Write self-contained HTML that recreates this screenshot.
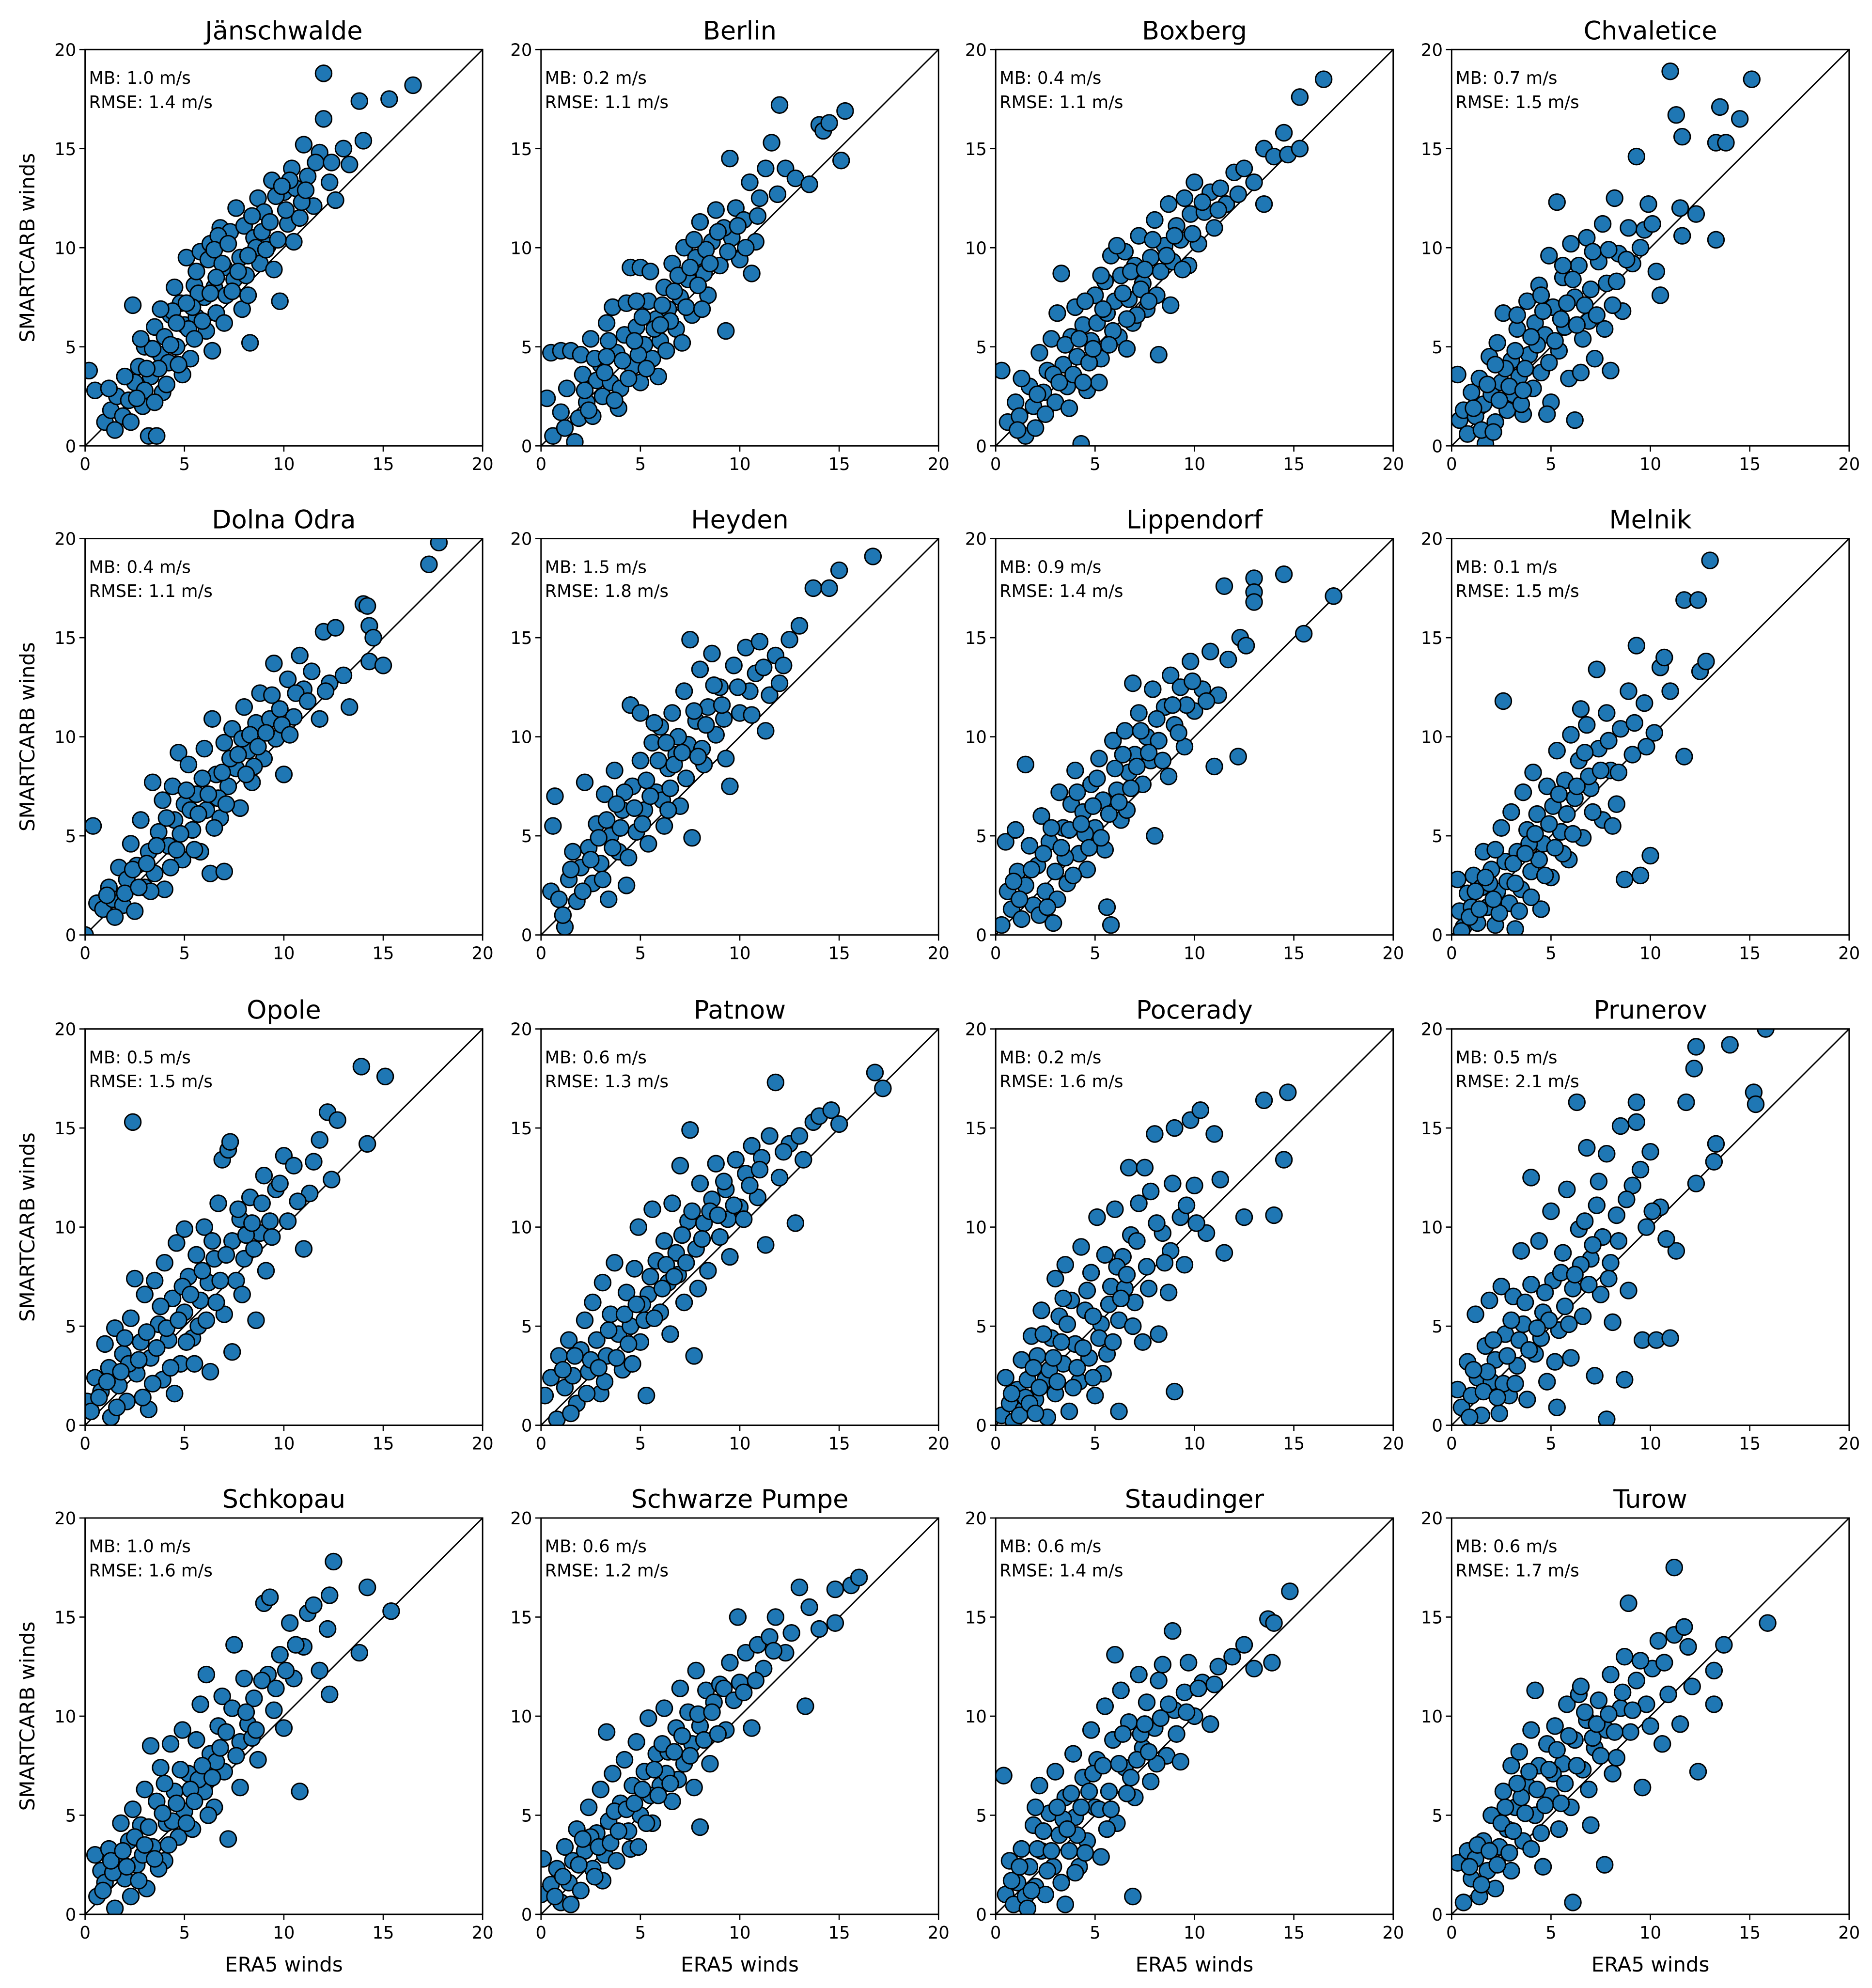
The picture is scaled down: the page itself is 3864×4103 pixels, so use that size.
<!DOCTYPE html>
<html><head><meta charset="utf-8">
<style>
html,body{margin:0;padding:0;background:#fff;}
svg{display:block;}
text{font-family:"DejaVu Sans","Liberation Sans",sans-serif;fill:#000;}
</style></head>
<body>
<svg id="fig" width="3864" height="4103" viewBox="0 0 1474 1565" preserveAspectRatio="none" xmlns="http://www.w3.org/2000/svg">
<rect width="1474" height="1565" fill="#fff"/>
</svg>
<script>
const stations = ["Jänschwalde","Berlin","Boxberg","Chvaletice","Dolna Odra","Heyden","Lippendorf","Melnik","Opole","Patnow","Pocerady","Prunerov","Schkopau","Schwarze Pumpe","Staudinger","Turow"];
const mbValues = [1.0,0.2,0.4,0.7,0.4,1.5,0.9,0.1,0.5,0.6,0.2,0.5,1.0,0.6,0.6,0.6];
const rmseValues = [1.4,1.1,1.1,1.5,1.1,1.8,1.4,1.5,1.5,1.3,1.6,2.1,1.6,1.2,1.4,1.7];
const tickLabels = [0,5,10,15,20];

const ptsJanschwalde = [[0.2,3.8],[0.5,2.8],[1,1.2],[1.3,1.8],[1.6,2.5],[1.9,1.5],[2.2,2.3],[2.4,7.1],[2.5,3.2],[2.7,4],[2.9,2],[3,5],[3.2,0.5],[3.3,3.5],[3.5,6],[3.6,0.5],[3.8,4.6],[3.9,2.7],[4,5.5],[4.2,4.2],[4.3,6.6],[4.5,8],[4.6,5],[4.8,7.2],[5,6.1],[5.1,9.5],[5.3,4.4],[5.5,8.1],[5.6,6.5],[5.8,9.8],[6,7.5],[6.1,5.8],[6.3,10.2],[6.5,8],[6.6,6.7],[6.8,11],[7,9],[7.1,7.6],[7.3,10.8],[7.5,8.4],[7.6,12],[7.8,9.5],[8,11.1],[8.1,8.6],[8.3,5.2],[8.5,10.5],[8.7,12.5],[8.8,9.2],[9,11.8],[9.2,10.1],[9.4,13.4],[9.5,8.9],[9.8,7.3],[10,12.8],[10.2,11.2],[10.4,14],[10.6,13],[10.8,11.5],[11,15.2],[11.2,13.6],[11.5,12.1],[11.8,14.8],[12,16.5],[12,18.8],[12.3,13.3],[12.6,12.4],[13,15],[13.3,14.2],[13.8,17.4],[14,15.4],[15.3,17.5],[16.5,18.2],[2,3.5],[3,2.8],[4.4,6.8],[5.2,5.9],[6.2,9.4],[7.4,7.8],[8.6,10],[9.6,12.6],[10.5,10.3],[1.5,0.8],[3.4,4.9],[4.1,3.1],[5.7,7.7],[6.9,9.2],[2.8,5.4],[4.9,3.6],[6.4,4.8],[7.9,6.9],[9.1,9.9],[10.9,12.3],[1.2,2.9],[3.7,3.9],[5.4,7],[6.7,10.6],[2.3,1.2],[2.6,2.4],[3.1,3.9],[3.5,2.2],[4.3,5.1],[4.7,4.1],[5.1,7.2],[5.5,5.4],[5.9,6.3],[6.3,7.7],[6.5,9.9],[7,6.2],[7.2,10.2],[7.7,8.8],[8.2,9.6],[8.4,11.6],[8.9,10.8],[9.3,11.3],[9.7,10.4],[10.1,11.9],[10.3,13.4],[11.1,12.9],[11.6,14.3],[12.4,14.3],[4.6,6.2],[3.8,6.9],[5.6,8.8],[6.6,8.5],[8.2,7.6],[9.9,13.1]];
const ptsBerlin = [[0.3,2.4],[0.5,4.7],[0.6,0.5],[1,4.8],[1,1.7],[1.3,2.9],[1.5,4.8],[1.7,0.2],[1.9,1.4],[2.1,3.6],[2.3,2.2],[2.5,5.4],[2.6,1.5],[2.8,3.3],[3,4.1],[3.1,2.5],[3.3,6.2],[3.5,3.2],[3.6,7],[3.8,4.7],[4,2.9],[4.2,5.6],[4.3,7.2],[4.5,9],[4.6,4],[4.8,6],[5,9],[5,3.2],[5.2,5.1],[5.4,7.3],[5.5,8.8],[5.6,4.4],[5.8,6.4],[6,5.3],[6.2,8],[6.4,6.9],[6.6,9.2],[6.8,5.9],[7,7.5],[7.2,10],[7.4,8.4],[7.6,6.6],[7.8,9.5],[8,11.3],[8.2,8.7],[8.4,7.6],[8.6,10.3],[8.8,11.9],[9,9.1],[9.3,5.8],[9.5,14.5],[9.6,10.5],[9.8,12],[10,9.4],[10.2,11.4],[10.5,13.3],[10.8,10.3],[11,12.5],[11.3,14],[11.6,15.3],[11.9,12.7],[12,17.2],[12.3,14],[12.8,13.5],[13.5,13.2],[14,16.2],[14.2,15.9],[14.5,16.3],[15.1,14.4],[15.3,16.9],[2,4.6],[3.9,1.9],[4.9,4.6],[6.1,7.1],[7.1,5.2],[8.3,9.9],[2.4,1.8],[3.4,5.3],[5.9,3.5],[6.9,8.6],[9.2,11],[10.6,8.7],[1.2,0.9],[2.2,2.8],[2.7,4.4],[3.2,3.7],[3.7,2.3],[4.1,4.3],[4.4,3.4],[4.7,5.3],[5.1,6.5],[5.3,3.9],[5.7,5.9],[6.3,4.8],[6.5,6.3],[6.7,7.8],[7.3,7],[7.5,9],[7.9,8.1],[8.1,6.9],[8.5,9.2],[8.9,10.8],[9.4,9.8],[9.9,11.1],[10.3,10],[10.9,11.6],[3.3,4.5],[4.8,7.3],[6.0,6.1],[7.7,10.4]];
const ptsBoxberg = [[0.3,3.8],[0.6,1.2],[1,2.2],[1.2,1.5],[1.5,0.5],[1.7,3],[1.9,2],[2.2,4.7],[2.4,2.7],[2.6,3.8],[2.8,5.4],[3,2.2],[3.1,6.7],[3.3,8.7],[3.4,4.1],[3.6,3],[3.8,5.5],[4,7],[4.1,4.5],[4.3,0.1],[4.4,6.1],[4.6,2.8],[4.8,5.3],[5,7.6],[5.1,6.2],[5.3,4.4],[5.5,8.3],[5.6,6.7],[5.8,9.6],[6,7.3],[6.2,5.5],[6.3,8.6],[6.5,9.8],[6.7,7.4],[6.9,6.2],[7,9.1],[7.2,10.6],[7.4,8.2],[7.6,6.9],[7.8,9.5],[8,11.4],[8.2,4.6],[8.3,8.8],[8.5,10.1],[8.7,12.2],[8.9,9.3],[9.1,11.1],[9.3,10.4],[9.5,12.5],[9.8,11.7],[10,13.3],[10.2,10.2],[10.5,11.8],[10.8,12.8],[11,11],[11.3,13],[11.6,12.2],[12,13.8],[12.5,14],[13,13.3],[13.5,12.2],[13.5,15],[14,14.6],[14.5,15.8],[14.7,14.7],[15.3,15],[15.3,17.6],[16.5,18.5],[1.3,3.4],[2,0.9],[3.7,1.9],[5.2,3.2],[6.6,4.9],[7.3,7.9],[8.8,7.1],[9.7,9.1],[4.7,4.2],[5.9,5.8],[2.9,3.6],[6.1,10.1],[1.1,0.8],[2.1,2.6],[2.5,1.6],[3.2,3.2],[3.5,5.1],[3.9,3.6],[4.2,5.4],[4.5,7.3],[4.9,4.9],[5.4,6.9],[5.7,5.1],[6.4,7.7],[6.8,8.8],[7.1,6.6],[7.5,8.9],[7.9,10.4],[8.1,7.6],[8.6,9.6],[9,10.6],[9.4,8.9],[9.9,10.7],[10.4,12.3],[11.2,11.9],[12.2,12.7],[4.4,3.2],[5.3,8.6],[6.6,6.4],[7.7,7.3]];
const ptsChvaletice = [[0.3,3.6],[0.4,1.3],[0.6,1.8],[0.8,0.6],[1,2.7],[1.2,1.5],[1.4,3.4],[1.6,2.1],[1.7,0.1],[1.9,4.5],[2,2.6],[2.2,1.2],[2.3,5.2],[2.5,3.2],[2.6,6.7],[2.8,1.8],[3,4.3],[3.1,2.6],[3.3,5.9],[3.4,3.5],[3.6,1.6],[3.8,7.3],[3.9,4.6],[4.1,2.9],[4.2,6.2],[4.4,8.1],[4.5,3.7],[4.7,5.6],[4.9,9.6],[5,2.2],[5.1,7],[5.3,12.3],[5.4,4.8],[5.6,8.5],[5.7,6],[5.9,3.4],[6,10.2],[6.2,1.3],[6.2,7.5],[6.4,9.1],[6.6,5.4],[6.8,10.5],[7,7.9],[7.2,4.4],[7.4,9.3],[7.6,11.2],[7.8,8.2],[8,3.8],[8.2,12.5],[8.4,9.7],[8.6,6.8],[8.9,11],[9.3,14.6],[9.5,10],[9.9,12.2],[10.3,8.8],[10.5,7.6],[11,18.9],[11.3,16.7],[11.5,12],[11.6,15.6],[11.6,10.6],[12.3,11.7],[13.3,10.4],[13.3,15.3],[13.5,17.1],[13.8,15.3],[14.5,16.5],[15.1,18.5],[2.7,3.9],[4.3,5.1],[5.5,6.4],[6.9,6.3],[8.1,7.1],[3.5,2.1],[7.7,5.9],[9.1,9.2],[4.8,1.6],[1.5,0.8],[1.1,1.9],[1.8,3.1],[2.1,0.7],[2.4,2.3],[2.9,3],[3.2,4.8],[3.7,3.9],[4,5.5],[4.6,6.8],[4.9,4.2],[5.2,5.3],[5.8,7.2],[6.1,8.4],[6.3,6.1],[6.7,7.1],[7.1,9.8],[7.3,6.6],[7.9,9.9],[8.3,8.3],[8.8,9.4],[9.7,10.9],[10.1,11.2],[3.3,6.6],[4.5,7.6],[5.6,9.1],[6.5,3.7],[2.2,4.1],[3.6,2.8]];
const ptsDolnaOdra = [[0,0],[0.4,5.5],[0.6,1.6],[0.9,1.3],[1.2,2.4],[1.4,1.8],[1.7,3.4],[1.9,1.5],[2.1,2.8],[2.3,4.6],[2.5,1.2],[2.6,3.5],[2.8,5.8],[3,2.4],[3.2,4.2],[3.4,7.7],[3.5,3.1],[3.7,5.2],[3.9,6.8],[4,2.3],[4.2,4.5],[4.4,7.5],[4.5,5.8],[4.7,9.2],[4.9,3.8],[5,6.6],[5.2,8.6],[5.4,5.3],[5.6,7.1],[5.8,4.2],[6,9.4],[6.1,6.3],[6.3,3.1],[6.4,10.9],[6.6,8.1],[6.8,5.9],[7,3.2],[7,9.7],[7.2,7.5],[7.4,10.4],[7.6,8.4],[7.8,6.4],[8,11.5],[8.2,9.3],[8.4,7.7],[8.6,10.7],[8.8,12.2],[9,8.9],[9.3,10.9],[9.5,13.7],[9.8,11.4],[10,8.1],[10.2,12.9],[10.5,11],[10.8,14.1],[11,12.4],[11.4,13.3],[11.8,10.9],[12,15.3],[12.3,12.7],[12.6,15.5],[13,13.1],[13.3,11.5],[14,16.7],[14.2,16.6],[14.3,15.6],[14.3,13.8],[14.5,15],[15,13.6],[17.3,18.7],[17.8,19.8],[1.5,0.9],[3.3,2.2],[5.5,4.3],[6.7,6.9],[8.5,8.5],[9.6,9.9],[2.4,3.3],[4.6,4.3],[7.9,9.9],[1.1,2],[2,2.1],[2.7,2.4],[3.1,3.6],[3.6,4.5],[4.1,5.9],[4.3,3.4],[4.8,5.1],[5.1,7.3],[5.3,6.3],[5.7,6.1],[5.9,7.9],[6.2,7.1],[6.5,5.4],[6.9,8.2],[7.1,6.6],[7.3,8.9],[7.7,9.1],[8.1,8.1],[8.3,10.1],[8.7,9.5],[9.1,10.2],[9.4,12.1],[9.9,10.6],[10.3,10.1],[10.6,12.2],[11.2,11.8],[12.1,12.3]];
const ptsHeyden = [[0.6,5.5],[0.7,7],[0.5,2.2],[0.9,1.8],[1.2,0.4],[1.4,2.8],[1.6,4.2],[1.8,1.7],[2,3.4],[2.2,7.7],[2.4,4.4],[2.6,2.6],[2.8,5.6],[3,3.6],[3.2,7.1],[3.4,1.8],[3.5,5],[3.7,8.3],[3.9,4.2],[4.1,6.3],[4.3,2.5],[4.5,11.6],[4.6,7.5],[4.8,5.2],[5,11.2],[5,8.8],[5.2,6.3],[5.4,4.6],[5.6,9.7],[5.8,7.2],[6,10.5],[6.2,5.5],[6.4,8.4],[6.6,11.2],[6.8,9.1],[7,6.5],[7.2,12.3],[7.4,9.6],[7.5,14.9],[7.6,4.9],[7.8,10.8],[8,13.4],[8.2,8.6],[8.4,11.5],[8.6,14.2],[8.8,10.1],[9,12.5],[9.3,8.9],[9.5,7.5],[9.7,13.6],[10,11.2],[10.3,14.5],[10.5,12.3],[10.8,13.2],[11,14.8],[11.3,10.3],[11.5,12.1],[11.8,14.1],[12.2,13.6],[12.5,14.9],[13,15.6],[13.7,17.5],[14.5,17.5],[15,18.4],[16.7,19.1],[1.1,1],[2.9,4.9],[4.4,3.9],[6.1,6.8],[7.3,7.9],[8.1,9.4],[9.2,10.9],[3.3,5.8],[5.3,7.8],[6.9,10],[1.5,3.3],[2.1,2.2],[2.5,3.8],[3.1,2.8],[3.6,4.4],[4,5.4],[4.2,7.2],[4.7,6.4],[5.1,5.6],[5.5,7],[5.9,8.8],[6.3,9.7],[6.5,7.4],[6.7,8.6],[7.1,9.2],[7.7,11.3],[7.9,9],[8.3,10.6],[8.7,12.6],[9.1,11.6],[9.9,12.5],[10.6,11.1],[11.2,13.5],[12,12.7],[3.8,6.6],[5.7,10.7],[6.4,6.3]];
const ptsLippendorf = [[0.3,0.5],[0.5,4.7],[0.6,2.2],[0.8,1.3],[1,5.3],[1.1,3.2],[1.3,0.8],[1.5,8.6],[1.5,2.5],[1.7,4.5],[1.9,1.5],[2.1,3.5],[2.3,6],[2.5,2.2],[2.7,4.7],[2.9,0.6],[3,3.2],[3.2,7.2],[3.4,5.4],[3.6,2.6],[3.8,6.6],[4,8.3],[4.2,4.1],[4.4,6.2],[4.6,3.3],[4.8,7.6],[5,5.4],[5.2,8.9],[5.4,6.8],[5.6,1.4],[5.8,0.5],[5.9,9.8],[6.1,7.3],[6.3,5.8],[6.5,10.3],[6.7,8.2],[7,9.1],[7.2,11.2],[7.4,7.6],[7.6,10],[7.9,12.4],[8,5],[8.2,9.8],[8.5,11.5],[8.8,13.1],[9,10.6],[9.3,12.5],[9.5,9.5],[9.8,13.8],[10,11.3],[10.4,12.4],[10.8,14.3],[11,8.5],[11.2,12.1],[11.5,17.6],[11.7,13.9],[12.2,9],[12.3,15],[12.6,14.6],[13,18],[13,17.3],[13,16.8],[14.5,18.2],[15.5,15.2],[17,17.1],[2.2,1],[3.5,3.9],[4.5,5.1],[5.5,4.3],[6.6,6.3],[7.8,8.8],[8.7,8],[9.6,11.6],[3.1,1.8],[6.9,12.7],[0.9,2.7],[1.2,1.8],[1.8,3.3],[2.4,4.1],[2.6,1.4],[2.8,5.4],[3.3,4.4],[3.7,5.3],[3.9,3],[4.1,7.2],[4.3,5.6],[4.7,4.4],[4.9,6.5],[5.1,7.9],[5.3,4.9],[5.7,6.1],[6,8.4],[6.2,6.7],[6.4,9.1],[6.8,7.4],[7.1,8.5],[7.3,10.3],[7.7,9.2],[8.1,10.9],[8.4,8.8],[8.9,11.6],[9.2,10.2],[9.9,12.8],[10.6,11.8]];
const ptsMelnik = [[0.3,2.8],[0.4,1.2],[0.6,0.4],[0.8,2.1],[1,1.4],[1.1,3],[1.3,0.6],[1.5,2.4],[1.6,4.2],[1.8,1.4],[2,3.3],[2.2,0.5],[2.3,2.2],[2.5,5.4],[2.6,11.8],[2.7,3.7],[2.9,1.6],[3,6.2],[3.2,0.3],[3.3,4.2],[3.5,2.3],[3.6,7.2],[3.8,5.3],[4,3.2],[4.1,8.2],[4.3,6.1],[4.5,1.3],[4.6,4.6],[4.8,7.5],[5,2.9],[5.1,6.5],[5.3,9.3],[5.5,5.2],[5.7,7.8],[5.9,3.8],[6,10.1],[6.2,6.9],[6.4,8.8],[6.6,4.9],[6.8,10.6],[7,7.4],[7.3,13.4],[7.4,9.4],[7.6,5.8],[7.8,11.2],[8,8.3],[8.3,6.6],[8.5,10.4],[8.7,2.8],[8.9,12.3],[9.1,9.1],[9.3,14.6],[9.5,3],[9.7,11.7],[10,4],[10.2,10.2],[10.5,13.5],[10.7,14],[11,12.3],[11.7,16.9],[11.7,9],[12.4,16.9],[12.5,13.3],[12.8,13.8],[13,18.9],[1.9,2.6],[3.9,4.6],[5.6,4.1],[6.9,8],[8.1,5.5],[2.4,1.1],[4.4,3.8],[6.5,11.4],[0.5,0.2],[0.9,0.9],[1.2,2.2],[1.4,1.3],[1.7,2.9],[2.1,1.8],[2.8,2.7],[3.1,3.6],[3.4,1.2],[3.7,4.1],[4.2,5.1],[4.7,3],[4.9,5.6],[5.2,4.4],[5.4,7.1],[5.8,6.1],[6.1,5.1],[6.3,7.5],[6.7,9.2],[7.1,6.2],[7.5,8.3],[7.9,9.8],[8.4,8.2],[9.2,10.7],[9.8,9.5],[3.2,2.6],[2.2,4.3],[4.0,1.9]];
const ptsOpole = [[0.1,1.2],[0.3,0.7],[0.5,2.4],[0.8,1.7],[1,4.1],[1.2,2.9],[1.3,0.4],[1.5,4.9],[1.7,2],[1.9,3.6],[2.1,1.2],[2.3,5.4],[2.4,15.3],[2.5,7.4],[2.6,2.6],[2.8,4.2],[3,6.6],[3.2,0.8],[3.3,3.4],[3.5,7.3],[3.7,5.1],[3.9,2.3],[4,8.2],[4.2,4.3],[4.4,6.4],[4.6,9.2],[4.8,3.1],[5,9.9],[5,5.7],[5.2,7.5],[5.4,4.4],[5.6,8.6],[5.8,6.3],[6,10],[6.2,7.2],[6.3,2.7],[6.5,8.4],[6.7,11.2],[6.9,13.4],[7,5.6],[7.2,13.9],[7.3,14.3],[7.4,3.7],[7.4,9.3],[7.6,7.3],[7.8,10.4],[8,8.4],[8.3,11.5],[8.6,5.3],[8.8,9.7],[9,12.6],[9.3,10.3],[9.6,11.9],[10,13.6],[10.2,10.3],[10.5,13.1],[11,8.9],[11.3,11.7],[11.8,14.4],[12.2,15.8],[12.4,12.4],[12.7,15.4],[13.9,18.1],[14.2,14.2],[15.1,17.6],[1.6,0.9],[3.4,2.1],[4.5,1.6],[5.5,3.1],[6.6,6.2],[7.9,6.6],[9.1,7.8],[2.2,3.1],[4.1,4.9],[8.5,8.9],[0.7,1.4],[1.1,2.2],[1.8,2.7],[2.0,4.4],[2.7,3.3],[2.9,1.4],[3.1,4.7],[3.6,3.9],[3.8,6],[4.3,2.9],[4.7,5.3],[4.9,7],[5.1,4.2],[5.3,6.6],[5.7,5],[5.9,7.8],[6.1,5.3],[6.4,9.3],[6.8,7.3],[7.1,8.6],[7.7,10.9],[8.1,9.6],[8.4,10.2],[8.9,11.2],[9.4,9.5],[9.8,12.2],[10.7,11.3],[11.5,13.3]];
const ptsPatnow = [[0.2,1.5],[0.5,2.4],[0.8,0.3],[0.9,3.5],[1.2,1.9],[1.4,4.3],[1.6,2.5],[1.8,1.1],[2,3.8],[2.2,5.3],[2.4,2.7],[2.6,6.2],[2.8,4.3],[3,1.6],[3.1,7.2],[3.3,3.5],[3.5,5.6],[3.7,8.2],[3.9,4.6],[4.1,2.8],[4.3,6.7],[4.5,5],[4.7,7.9],[4.9,10],[5,4.2],[5.3,1.5],[5.4,6.6],[5.6,10.9],[5.8,8.3],[6,5.7],[6.2,9.3],[6.4,7.2],[6.6,11.2],[6.8,8.7],[7,13.1],[7.2,6.2],[7.4,10.3],[7.5,14.9],[7.7,3.5],[7.8,8.9],[8,12.2],[8.2,10.2],[8.4,7.8],[8.6,11.4],[8.8,13.2],[9,9.5],[9.3,11.9],[9.5,8.5],[9.8,13.4],[10,11],[10.3,12.7],[10.6,14.1],[10.9,11.5],[11.1,13.5],[11.3,9.1],[11.5,14.6],[11.8,17.3],[12,12.5],[12.5,14.2],[12.8,10.2],[13.2,13.4],[13.7,15.3],[14,15.6],[14.6,15.9],[15,15.2],[16.8,17.8],[17.2,17],[1.5,0.6],[3.2,2.2],[4.6,3.1],[6.5,4.6],[7.9,6.9],[9.4,10.4],[2.5,3.3],[5.1,6.1],[6.9,7.6],[1.1,2.8],[1.7,3.5],[2.3,1.6],[2.9,2.9],[3.4,4.8],[3.8,3.4],[4.2,5.6],[4.4,4.1],[4.8,6.1],[5.2,5.3],[5.5,7.5],[5.7,5.4],[6.1,6.9],[6.3,8.1],[6.7,7.5],[7.1,9.6],[7.3,8.2],[7.6,10.8],[8.1,9.4],[8.5,10.8],[8.9,10.6],[9.2,12.3],[9.7,11.1],[10.2,10.4],[10.5,12.1],[11,12.9],[12.2,13.8],[13,14.6]];
const ptsPocerady = [[0.3,0.5],[0.5,2.4],[0.7,1.1],[0.9,0.2],[1.1,1.8],[1.3,3.3],[1.4,0.8],[1.6,2.3],[1.8,4.5],[2,1.3],[2.1,3.5],[2.3,5.8],[2.5,2.3],[2.6,0.4],[2.8,4.4],[3,7.4],[3,1.6],[3.2,5.5],[3.4,3.1],[3.5,8.1],[3.7,0.7],[3.8,6.3],[4,4.1],[4.2,2.2],[4.3,9],[4.5,5.8],[4.7,3.4],[4.8,7.7],[5,1.5],[5.1,10.5],[5.3,5.1],[5.5,8.6],[5.6,3.6],[5.8,7],[6,10.9],[6.2,0.7],[6.2,5.3],[6.4,8.5],[6.7,13],[6.8,9.6],[7,6.2],[7.2,11.2],[7.5,13],[7.6,8],[7.8,11.8],[8,14.7],[8.2,4.6],[8.4,9.7],[8.7,6.7],[9,1.7],[9,15],[9.3,10.5],[9.5,8.1],[9.8,15.4],[10,12.1],[10.3,15.9],[10.6,9.7],[11,14.7],[11.3,12.4],[11.5,8.7],[12.5,10.5],[13.5,16.4],[14,10.6],[14.5,13.4],[14.7,16.8],[1.5,1.4],[2.7,2.8],[4.1,2.9],[5.2,4.4],[6.5,6.9],[7.4,4.2],[3.3,4.2],[4.6,6.8],[8.8,8.8],[0.8,1.6],[1.2,0.5],[1.7,1.1],[1.9,2.9],[2.2,1.9],[2.4,4.6],[2.9,3.4],[3.1,2.2],[3.6,5.1],[3.9,1.9],[4.4,3.9],[4.9,5.5],[5.4,2.6],[5.7,6.1],[5.9,4.2],[6.1,8],[6.3,6.4],[6.6,7.6],[6.9,5],[7.1,9.3],[7.7,6.9],[8.1,10.2],[8.5,8.2],[8.9,12.2],[9.6,11.1],[10.1,10.2],[3.4,6.4],[4.9,2.4],[2.0,0.6]];
const ptsPrunerov = [[0.3,1.8],[0.5,0.9],[0.8,3.2],[1,1.5],[1.2,5.6],[1.3,2.4],[1.5,0.5],[1.7,4],[1.9,6.3],[2,2.2],[2.2,3.3],[2.4,0.6],[2.5,7],[2.7,4.6],[2.9,1.5],[3.1,6.5],[3.3,3],[3.5,8.8],[3.6,5.1],[3.8,1.3],[4,12.5],[4,7.1],[4.2,3.6],[4.4,9.3],[4.6,5.7],[4.8,2.2],[5,10.8],[5.1,7.3],[5.3,0.9],[5.4,4.8],[5.6,8.7],[5.8,11.9],[6,3.4],[6.1,6.9],[6.3,16.3],[6.4,9.9],[6.6,5.5],[6.8,14],[7,8.4],[7.2,2.5],[7.3,11.1],[7.5,6.6],[7.8,0.3],[7.8,13.7],[8,8.2],[8.3,10.6],[8.5,15.1],[8.7,2.3],[8.9,6.8],[9.1,12.1],[9.3,16.3],[9.3,15.3],[9.6,4.3],[9.8,10],[10,13.8],[10.3,4.3],[10.5,11],[11,4.4],[11.3,8.8],[11.8,16.3],[12.2,18],[12.3,19.1],[12.3,12.2],[13.2,13.3],[13.3,14.2],[14,19.2],[15.2,16.8],[15.3,16.2],[15.8,20],[1.8,2.7],[3.4,4.3],[4.5,4.4],[5.7,6],[6.5,8.1],[7.6,9.5],[2.6,2.1],[4.9,5.3],[8.1,5.2],[0.9,0.4],[1.1,2.8],[1.6,1.7],[2.1,4.3],[2.3,1.4],[2.8,3.5],[3,5.3],[3.2,2.1],[3.7,6.2],[3.9,3.8],[4.3,4.9],[4.7,6.7],[5.2,3.2],[5.5,7.7],[5.9,5.1],[6.2,7.6],[6.7,10.3],[6.9,7.1],[7.1,9.1],[7.4,12.3],[7.9,7.4],[8.4,9.3],[8.8,11.4],[9.5,12.9],[10.1,10.8],[10.8,9.4]];
const ptsSchkopau = [[0.5,3],[0.6,0.9],[0.8,2.2],[1,1.6],[1.2,3.3],[1.5,0.3],[1.6,2.5],[1.8,4.6],[2,1.8],[2.2,3.7],[2.4,5.3],[2.6,2.5],[2.8,4.5],[3,6.3],[3.1,1.3],[3.3,8.5],[3.4,3.4],[3.6,5.7],[3.8,7.4],[4,2.7],[4.1,4.6],[4.3,8.6],[4.5,6.2],[4.7,3.9],[4.9,9.3],[5,5.2],[5.2,7.1],[5.4,4.3],[5.6,8.8],[5.8,10.6],[6,6.2],[6.1,12.1],[6.3,8.1],[6.5,5.4],[6.7,9.5],[6.9,11],[7,7.2],[7.2,3.8],[7.4,10.4],[7.5,13.6],[7.8,6.4],[7.8,8.7],[8,11.9],[8.2,9.6],[8.5,10.9],[8.7,7.8],[9,15.7],[9.2,12.1],[9.3,16],[9.5,10.3],[9.8,13.1],[10,9.4],[10.3,14.7],[10.5,11.9],[10.8,6.2],[11,13.5],[11.2,15.2],[11.5,15.6],[11.8,12.3],[12.2,14.4],[12.3,16.1],[12.3,11.1],[12.5,17.8],[13.8,13.2],[14.2,16.5],[15.4,15.3],[1.4,2.1],[2.9,3],[4.4,4.7],[5.7,6.8],[6.6,7.7],[8.4,8.9],[2.3,0.9],[3.7,2.3],[6.2,5],[0.9,1.2],[1.3,2.7],[1.9,3.2],[2.1,2.4],[2.5,3.9],[2.7,1.7],[3.2,4.4],[3.5,2.8],[3.9,5.1],[4.2,3.5],[4.6,5.6],[4.8,7.3],[5.1,4.6],[5.3,6.3],[5.5,5.7],[5.9,7.5],[6.4,6.9],[6.8,8.4],[7.1,9.2],[7.6,8],[8.1,10.2],[8.6,9.3],[8.9,11.8],[9.6,11.4],[10.1,12.3],[10.6,13.6],[3.0,3.5],[4.0,6.6]];
const ptsSchwarzePumpe = [[0,1],[0.1,2.8],[0.5,1.5],[0.8,2.3],[1,0.6],[1.2,3.4],[1.4,1.6],[1.6,2.7],[1.8,4.3],[2,1.2],[2.2,3.2],[2.4,5.4],[2.6,2.3],[2.8,4.1],[3,6.3],[3.2,3],[3.3,9.2],[3.4,4.7],[3.6,7.1],[3.8,2.7],[4,5.6],[4.2,7.8],[4.4,4.2],[4.6,6.5],[4.8,8.7],[5,5],[5.2,7.2],[5.4,9.9],[5.6,4.6],[5.8,8.1],[6,6.5],[6.2,10.4],[6.4,8.2],[6.6,5.7],[6.8,9.4],[7,11.4],[7.2,7.6],[7.4,10.2],[7.6,8.6],[7.8,12.3],[8,4.4],[8,9.5],[8.3,11.3],[8.5,7.6],[8.7,10.7],[9,11.6],[9.3,9.3],[9.5,12.7],[9.9,15],[10,11.7],[10.3,13.2],[10.6,9.4],[10.9,13.6],[11.2,12.4],[11.5,14],[11.8,15],[12.3,13.2],[13,16.5],[13.3,10.5],[13.5,15.5],[14,14.4],[14.8,16.4],[14.8,14.7],[15.6,16.6],[16,17],[1.5,0.5],[3.1,1.7],[4.5,3.3],[5.5,6],[6.9,6.8],[7.7,6.4],[2.5,3.9],[4.9,3.4],[6.3,7.1],[0.7,0.9],[1.1,1.9],[1.9,2.5],[2.1,3.8],[2.7,1.9],[2.9,3.4],[3.5,3.6],[3.7,5.2],[3.9,4.2],[4.3,5.3],[4.7,5.6],[5.1,6.3],[5.3,4.6],[5.7,7.3],[5.9,6],[6.1,8.6],[6.5,6.6],[6.7,8.2],[7.1,9],[7.5,8],[7.9,10.1],[8.2,8.8],[8.6,10.2],[8.9,9.1],[9.2,11.4],[9.7,10.8],[10.2,11.2],[10.8,11.8],[11.7,13.3],[12.6,14.2]];
const ptsStaudinger = [[0.4,7],[0.5,1],[0.7,2.7],[0.9,0.5],[1.1,1.6],[1.3,3.3],[1.5,0.9],[1.7,2.4],[1.9,4.5],[2,1.4],[2.2,6.5],[2.3,3.2],[2.5,1],[2.7,5.1],[2.9,2.4],[3,7.2],[3.2,4],[3.3,1.6],[3.5,0.5],[3.5,5.9],[3.7,3.2],[3.9,8.1],[4,4.9],[4.2,2.4],[4.4,6.9],[4.6,3.7],[4.8,9.3],[5,5.4],[5.1,7.8],[5.3,2.9],[5.5,10.5],[5.7,6.2],[5.9,8.8],[6,13.1],[6.1,4.6],[6.3,11.3],[6.5,7.4],[6.7,9.7],[6.9,0.9],[7,5.9],[7.2,12.1],[7.4,8.4],[7.6,10.7],[7.8,6.7],[8,9.4],[8.2,11.8],[8.4,12.6],[8.6,8],[8.9,14.3],[9,10.3],[9.3,7.7],[9.5,11.2],[9.7,12.7],[10,10],[10.4,11.7],[10.8,9.6],[11.2,12.5],[11.9,13],[12.5,13.6],[13,12.4],[13.7,14.9],[13.9,12.7],[14,14.7],[14.8,16.3],[1.6,0.3],[2.6,2.2],[4.1,4],[5.6,4.3],[6.8,6.9],[8.1,7.6],[3.4,4.8],[4.7,6.2],[7.3,9.1],[0.8,1.7],[1.2,2.4],[1.8,1.2],[2.1,3.3],[2.4,4.2],[2.8,3.2],[3.1,5.4],[3.6,4.3],[3.8,6.1],[4.3,5.4],[4.5,3.1],[4.9,7.1],[5.2,5.3],[5.4,7.5],[5.8,5.3],[6.2,7.6],[6.4,9.1],[6.6,6.1],[7.1,7.8],[7.5,9.6],[7.7,8.2],[8.3,9.9],[8.7,10.6],[9.1,9.1],[9.6,10.2],[10.2,11.4],[11,11.6],[2.0,5.4],[4.0,2.1]];
const ptsTurow = [[0.3,2.6],[0.6,0.6],[0.8,3.2],[1,1.8],[1.2,2.8],[1.4,0.9],[1.6,3.7],[1.8,2.2],[2,5],[2.2,1.3],[2.4,3.4],[2.6,6.2],[2.8,4.3],[3,7.5],[3,2.2],[3.2,5.4],[3.4,8.2],[3.6,3.7],[3.8,6.5],[4,9.3],[4.2,11.3],[4.2,5],[4.4,7.5],[4.6,2.4],[4.8,8.6],[5,6],[5.2,9.5],[5.4,4.3],[5.6,7.6],[5.8,10.6],[6,5.4],[6.1,0.6],[6.2,8.8],[6.4,11.1],[6.5,11.5],[6.6,7.3],[6.8,9.8],[7,4.5],[7.2,8.4],[7.4,10.8],[7.7,2.5],[7.8,9.3],[8,12.1],[8.3,7.9],[8.5,10.4],[8.7,13],[8.9,15.7],[9,9.2],[9.3,11.8],[9.6,6.4],[9.8,10.6],[10.1,12.4],[10.4,13.8],[10.6,8.6],[10.9,11.1],[11.2,17.5],[11.2,14.1],[11.5,9.6],[11.7,14.5],[12.1,11.5],[12.4,7.2],[13.2,12.3],[13.2,10.6],[13.7,13.6],[15.9,14.7],[1.5,1.5],[2.9,3.1],[4.5,4.1],[5.5,5.6],[6.9,6.3],[8.1,7.1],[3.5,5.9],[5.1,7.1],[7.5,8],[0.9,2.4],[1.3,3.5],[1.9,3.2],[2.3,2.5],[2.5,4.6],[2.7,5.4],[3.1,4.2],[3.3,6.6],[3.7,5.1],[3.9,7.2],[4.3,6.3],[4.7,5.5],[4.9,7.3],[5.3,8.3],[5.7,6.6],[5.9,9],[6.3,7.5],[6.7,10.2],[7.1,8.9],[7.3,9.6],[7.9,10.1],[8.2,9.2],[8.6,11.2],[9.1,10.3],[9.5,12.8],[10,9.5],[10.7,12.7],[11.9,13.5],[4.0,3.3]];

const panelPoints = [ptsJanschwalde,ptsBerlin,ptsBoxberg,ptsChvaletice,ptsDolnaOdra,ptsHeyden,ptsLippendorf,ptsMelnik,ptsOpole,ptsPatnow,ptsPocerady,ptsPrunerov,ptsSchkopau,ptsSchwarzePumpe,ptsStaudinger,ptsTurow];

const NS = "http://www.w3.org/2000/svg";
const svg = document.getElementById('fig');
const colX = [67,426,784,1143], rowY = [39,424,810,1195];
const W = 313, H = 312, VMAX = 20;
function mk(tag, attrs, parent){
  const e = document.createElementNS(NS, tag);
  for (const k in attrs) e.setAttribute(k, attrs[k]);
  parent.appendChild(e);
  return e;
}
const defs = mk('defs', {}, svg);

stations.forEach((name, i) => {
  const c = i % 4, r = Math.floor(i / 4);
  const x0 = colX[c], y0 = rowY[r];
  const sx = v => x0 + v / VMAX * W;
  const sy = v => y0 + H - v / VMAX * H;
  const g = mk('g', {}, svg);
  
  

  const cp = mk('clipPath', {id: 'clip' + i}, defs);
  mk('rect', {x: x0, y: y0, width: W, height: H}, cp);

  const diag = mk('line', {x1: sx(0), y1: sy(0), x2: sx(VMAX), y2: sy(VMAX), stroke: '#000', 'stroke-width': 1.1, 'clip-path': 'url(#clip' + i + ')'}, g);
  
  

  const pg = mk('g', {'clip-path': 'url(#clip' + i + ')'}, g);
  
  
  panelPoints[i].forEach(p => {
    const ci = mk('circle', {cx: sx(p[0]), cy: sy(p[1]), r: 6.4, fill: '#1f77b4', stroke: '#000', 'stroke-width': 1.1}, pg);
    
    
  });

  const frame = mk('rect', {x: x0, y: y0, width: W, height: H, fill: 'none', stroke: '#000', 'stroke-width': 1.1}, g);
  
  

  tickLabels.forEach(t => {
    mk('line', {x1: sx(t), y1: y0 + H, x2: sx(t), y2: y0 + H + 4.5, stroke: '#000', 'stroke-width': 1}, g);
    const tx = mk('text', {x: sx(t), y: y0 + H + 19, 'font-size': 13.5, 'text-anchor': 'middle'}, g);
    tx.textContent = t;
    
    
    mk('line', {x1: x0, y1: sy(t), x2: x0 - 4.5, y2: sy(t), stroke: '#000', 'stroke-width': 1}, g);
    const ty = mk('text', {x: x0 - 7, y: sy(t) + 5, 'font-size': 13.5, 'text-anchor': 'end'}, g);
    ty.textContent = t;
    
    
  });

  const title = mk('text', {x: x0 + W / 2, y: y0 - 8, 'font-size': 20, 'text-anchor': 'middle'}, g);
  title.textContent = name;
  
  

  const mb = mk('text', {x: x0 + 3, y: y0 + 27, 'font-size': 13.5}, g);
  mb.textContent = 'MB: ' + mbValues[i].toFixed(1) + ' m/s';
  
  
  const rm = mk('text', {x: x0 + 3, y: y0 + 46, 'font-size': 13.5}, g);
  rm.textContent = 'RMSE: ' + rmseValues[i].toFixed(1) + ' m/s';
  
  

  if (c === 0) {
    const yl = mk('text', {x: 0, y: 0, 'font-size': 16, 'text-anchor': 'middle', transform: 'translate(27,' + (y0 + H / 2) + ') rotate(-90)'}, g);
    yl.textContent = 'SMARTCARB winds';
    
    
  }
  if (r === 3) {
    const xl = mk('text', {x: x0 + W / 2, y: 1552, 'font-size': 16, 'text-anchor': 'middle'}, g);
    xl.textContent = 'ERA5 winds';
    
    
  }
});
</script>
</body></html>
